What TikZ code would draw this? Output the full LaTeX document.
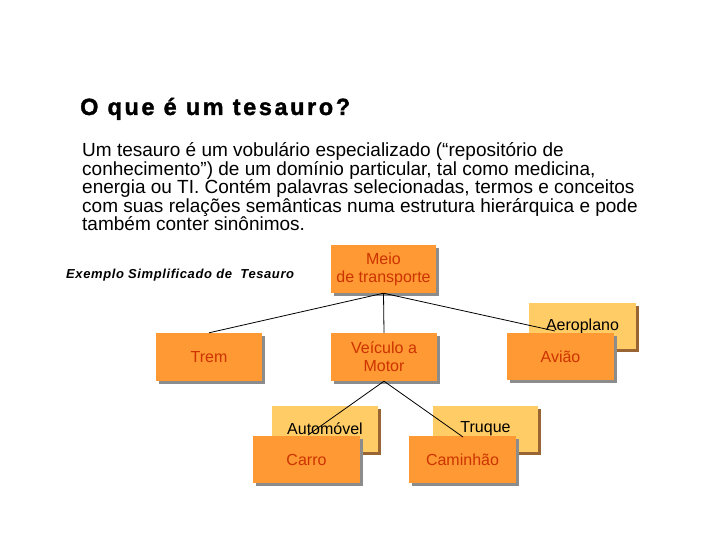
\documentclass[tikz,border=0pt]{standalone}
\usepackage{fontspec}
\setmainfont{Liberation Sans}
\newfontfamily\titlefont[LetterSpace=11,FakeBold=1.5]{Liberation Sans Bold}
\newfontfamily\examplefont[LetterSpace=4.6]{Liberation Sans}
\usetikzlibrary{shadows}
\definecolor{boxorange}{HTML}{FF9933}
\definecolor{boxlight}{HTML}{FFCC66}
\definecolor{boxtext}{HTML}{CC3300}
\definecolor{lightshadow}{HTML}{996633}
\definecolor{orangeshadow}{HTML}{8C8C8C}
\tikzset{
  orangebox/.style={rectangle, fill=boxorange, inner sep=0pt, text=boxtext,
    align=center, font=\fontsize{16}{18}\selectfont,
    drop shadow={shadow xshift=2.5pt, shadow yshift=-2.5pt, fill=orangeshadow, opacity=1}},
  lightbox/.style={rectangle, fill=boxlight, inner sep=0pt, text=black,
    align=center, font=\fontsize{16}{18}\selectfont,
    drop shadow={shadow xshift=3pt, shadow yshift=-3pt, fill=lightshadow, opacity=1}},
  link/.style={draw=black, line width=0.8pt}
}
\begin{document}
\begin{tikzpicture}[x=1pt,y=-1pt]
\useasboundingbox (0,0) rectangle (720,540);

\node[anchor=base west, inner sep=0pt, font=\titlefont\fontsize{23.5}{26}\selectfont] (title) at (80,115) {O que é um tesauro?};

\node[anchor=north west, inner sep=0pt, align=left, font=\fontsize{19}{18.5}\selectfont] (body) at (82,142.5)
{Um tesauro é um vobulário especializado (“repositório de\\
conhecimento”) de um domínio particular, tal como medicina,\\
energia ou TI. Contém palavras selecionadas, termos e conceitos\\
com suas relações semânticas numa estrutura hierárquica e pode\\
também conter sinônimos.};

\node[anchor=base west, inner sep=0pt, font=\examplefont\bfseries\itshape\fontsize{13}{15}\selectfont] (example) at (66,278.5) {Exemplo Simplificado de\ \ Tesauro};

% light (synonym) boxes
\node[lightbox, minimum width=107pt, minimum height=46pt] (aero) at (582.5,326) {Aeroplano};
\node[lightbox, minimum width=106pt, minimum height=46pt] (auto) at (325,429) {Automóvel};
\node[lightbox, minimum width=105pt, minimum height=46pt] (truque) at (485.5,429) {Truque};

% main boxes
\node[orangebox, minimum width=105pt, minimum height=48pt] (meio) at (383.5,269) {Meio\\de transporte};
\node[orangebox, minimum width=106pt, minimum height=48pt] (trem) at (209,357) {Trem};
\node[orangebox, minimum width=106pt, minimum height=48pt] (veiculo) at (384,357) {Veículo a\\Motor};
\node[orangebox, minimum width=107pt, minimum height=47pt] (aviao) at (560.5,356.5) {Avião};
\node[orangebox, minimum width=107pt, minimum height=47pt] (carro) at (306.5,459.5) {Carro};
\node[orangebox, minimum width=107pt, minimum height=47pt] (caminhao) at (462.5,459.5) {Caminhão};

% connector ends
\coordinate (aeroEnd) at (555,331);
\coordinate (autoEnd) at (308,435);
\coordinate (truqueEnd) at (463,437);

\draw[link] (meio.south) -- (trem.north);
\draw[link] (meio.south) -- (veiculo.north);
\draw[link] (meio.south) -- (aeroEnd);
\draw[link] (veiculo.south) -- (autoEnd);
\draw[link] (veiculo.south) -- (truqueEnd);
\end{tikzpicture}
\end{document}
